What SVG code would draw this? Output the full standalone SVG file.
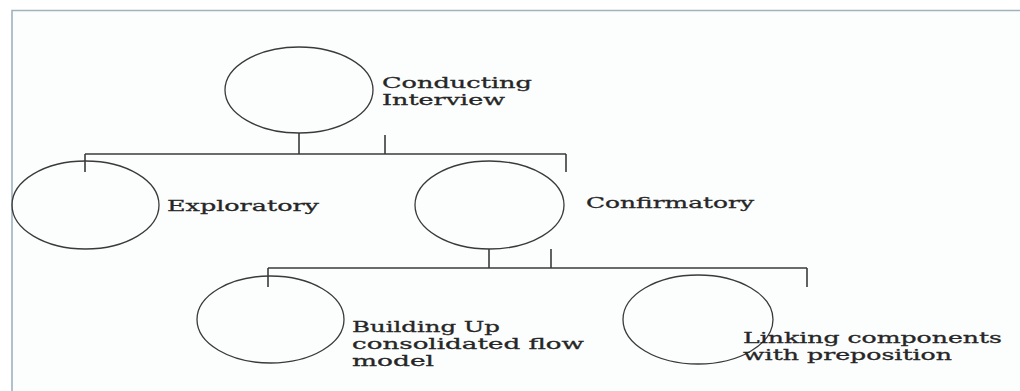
<svg xmlns="http://www.w3.org/2000/svg" width="1020" height="391" viewBox="0 0 1020 391">
<style>
.node ellipse{fill:none;stroke:#3a3a3a;stroke-width:1.3}
text{font-family:"DejaVu Serif","Liberation Serif",serif;font-size:15.5px;fill:#262626;stroke:#262626;stroke-width:0.3}
.conn line{stroke:#3a3a3a;stroke-width:1.6}
</style>
<rect width="1020" height="391" fill="#ffffff"/>
<rect x="12" y="10.5" width="1008" height="381" fill="#fcfdfd"/>
<path d="M12 391 V10.5 H1020" fill="none" stroke="#9fb2be" stroke-width="1.6"/>
<g class="conn">
<line x1="299" y1="133" x2="299" y2="154"/>
<line x1="385" y1="135" x2="385" y2="154"/>
<line x1="85" y1="154" x2="566" y2="154"/>
<line x1="85" y1="154" x2="85" y2="172"/>
<line x1="566" y1="154" x2="566" y2="172"/>
<line x1="489" y1="249" x2="489" y2="268"/>
<line x1="551" y1="249" x2="551" y2="268"/>
<line x1="268" y1="268" x2="807" y2="268"/>
<line x1="268" y1="268" x2="268" y2="287"/>
<line x1="807" y1="268" x2="807" y2="287"/>
</g>
<g id="conducting" class="node">
<ellipse cx="299" cy="90" rx="74" ry="43"/>
<text x="382" y="88" textLength="150" lengthAdjust="spacingAndGlyphs">Conducting</text>
<text x="382" y="105" textLength="123" lengthAdjust="spacingAndGlyphs">Interview</text>
</g>
<g id="exploratory" class="node">
<ellipse cx="85.5" cy="205" rx="73.5" ry="44"/>
<text x="167" y="211" textLength="152" lengthAdjust="spacingAndGlyphs">Exploratory</text>
</g>
<g id="confirmatory" class="node">
<ellipse cx="489.5" cy="205" rx="74.5" ry="44"/>
<text x="586" y="208" textLength="168" lengthAdjust="spacingAndGlyphs">Confirmatory</text>
</g>
<g id="building" class="node">
<ellipse cx="270.5" cy="319.5" rx="73.5" ry="43.5"/>
<text x="352" y="332" textLength="148" lengthAdjust="spacingAndGlyphs">Building Up</text>
<text x="352" y="349" textLength="232" lengthAdjust="spacingAndGlyphs">consolidated  flow</text>
<text x="352" y="366" textLength="82" lengthAdjust="spacingAndGlyphs">model</text>
</g>
<g id="linking" class="node">
<ellipse cx="698" cy="319.5" rx="75" ry="44.5"/>
<text x="743" y="343" textLength="259" lengthAdjust="spacingAndGlyphs">Linking components</text>
<text x="743" y="360" textLength="209" lengthAdjust="spacingAndGlyphs">with preposition</text>
</g>
</svg>
